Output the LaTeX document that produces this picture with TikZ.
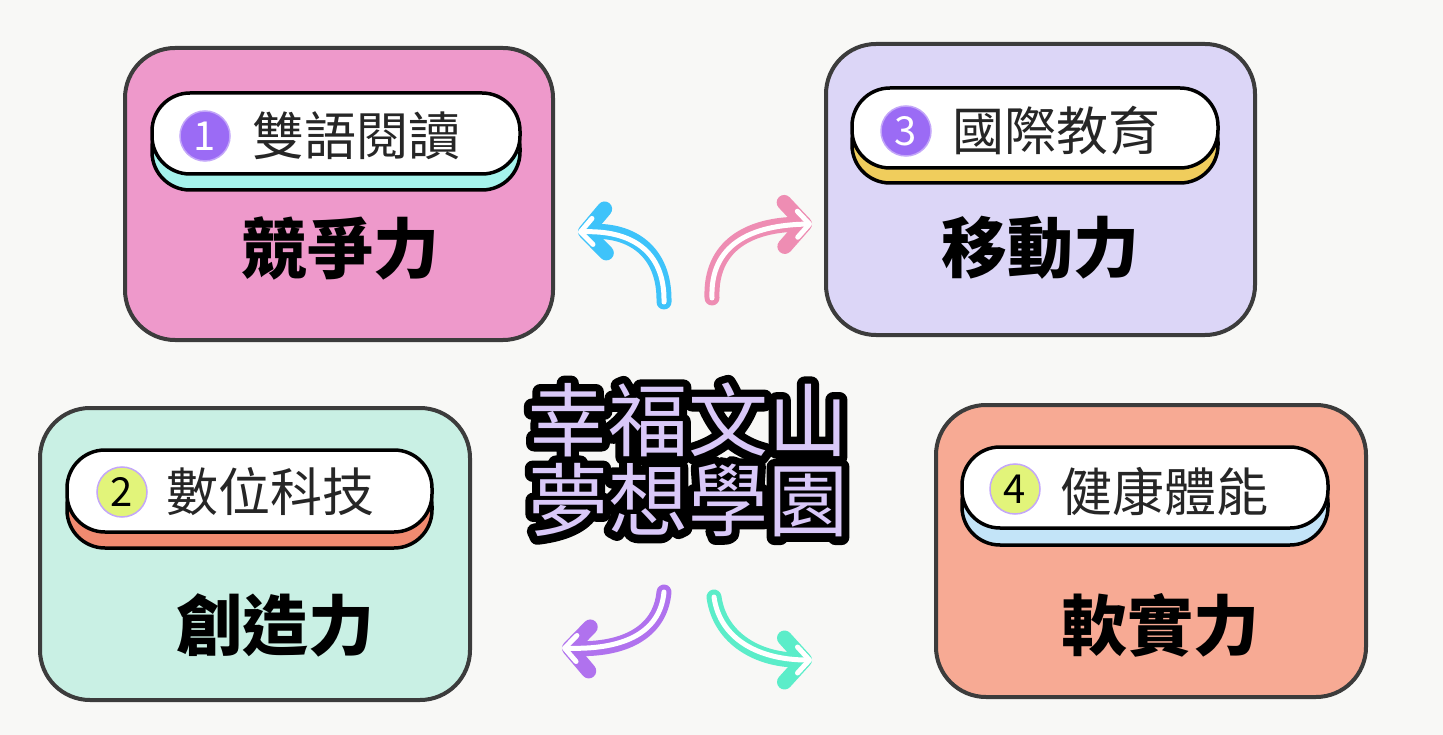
\documentclass[tikz,border=0pt]{standalone}
\usepackage{fontspec}
\usetikzlibrary{arrows.meta,calc}
\newfontfamily\cjk{Noto Sans CJK TC}
\definecolor{bg}{HTML}{F8F8F6}
\definecolor{edge}{HTML}{3C3C3C}
\definecolor{pinkf}{HTML}{EE99CB}
\definecolor{lavf}{HTML}{DCD6F7}
\definecolor{mintf}{HTML}{C9F0E4}
\definecolor{salf}{HTML}{F7AA94}
\definecolor{cyansh}{HTML}{A5F4EC}
\definecolor{yelsh}{HTML}{F0CD5C}
\definecolor{salsh}{HTML}{F08A70}
\definecolor{bluesh}{HTML}{C3E4F8}
\definecolor{purp}{HTML}{9B6BF5}
\definecolor{lime}{HTML}{E2F47A}
\definecolor{centre}{HTML}{D9C8F8}
\definecolor{arrblue}{HTML}{3EC3FA}
\definecolor{arrpink}{HTML}{EE8DB3}
\definecolor{arrpurp}{HTML}{B072EE}
\definecolor{arrgreen}{HTML}{5BEDC9}
\tikzset{
 card/.style={draw=edge,line width=4pt,rounded corners=50pt},
 pill/.style={draw=black,line width=3.5pt,rounded corners=38pt,fill=white},
 pillsh/.style={draw=black,line width=3.5pt,rounded corners=38pt},
 num/.style={circle,minimum size=50pt,inner sep=0pt,draw=purp!60,line width=1.5pt,font=\cjk\fontsize{40}{40}\selectfont},
 ptext/.style={font=\cjk\fontsize{52}{52}\selectfont,text=black!85,anchor=west,inner sep=0pt},
 title/.style={font=\cjk\bfseries\fontsize{66}{66}\selectfont},
 ctext/.style={font=\cjk\fontsize{80}{80}\selectfont,align=center},
 arrout/.style={line width=15pt,line cap=round,-{Straight Barb[length=20pt,width=44pt,round]}},
 arrin/.style={white,line width=5pt,line cap=round,-{Straight Barb[length=12pt,width=26pt,round]}},
}
\begin{document}
\begin{tikzpicture}[x=1pt,y=-1pt]
\fill[bg] (0,0) rectangle (1443,735);
\useasboundingbox (0,0) rectangle (1443,735);
% cards
\draw[card,fill=pinkf] (125,48) rectangle (553,340);
\draw[card,fill=lavf] (826,44) rectangle (1255,335);
\draw[card,fill=mintf] (40,408) rectangle (470,700);
\draw[card,fill=salf] (936,405) rectangle (1366,697);
% pills
\draw[pillsh,fill=cyansh] (152,110) rectangle (520,190);
\draw[pill] (152,93) rectangle (520,174);
\draw[pillsh,fill=yelsh] (852,104) rectangle (1218,183);
\draw[pill] (852,88) rectangle (1218,168);
\draw[pillsh,fill=salsh] (67,468) rectangle (432,548);
\draw[pill] (67,450) rectangle (432,532);
\draw[pillsh,fill=bluesh] (962,465) rectangle (1328,545);
\draw[pill] (962,447) rectangle (1328,528);
% numbers
\node[num,fill=purp,text=white] (n1) at (205,136) {1};
\node[num,fill=purp,text=white] (n3) at (906,131) {3};
\node[num,fill=lime,text=black] (n2) at (122,492) {2};
\node[num,fill=lime,text=black] (n4) at (1015,489) {4};
\node[ptext] (p1) at (252,136) {雙語閱讀};
\node[ptext] (p3) at (952,131) {國際教育};
\node[ptext] (p2) at (166,492) {數位科技};
\node[ptext] (p4) at (1060,492) {健康體能};
\node[title] (t1) at (340,248) {競爭力};
\node[title] (t3) at (1040,248) {移動力};
\node[title] (t2) at (275,625) {創造力};
\node[title] (t4) at (1160,625) {軟實力};
% centre text with outline
\node[ctext,text=black] (co) at (688,460) {\special{pdf:literal direct 2 Tr 16 w 1 j 0 G}幸福文山\\\special{pdf:literal direct 2 Tr 16 w 1 j 0 G}夢想學園\special{pdf:literal direct 0 Tr}};
\node[ctext,text=centre] (c) at (688,460) {\special{pdf:literal direct 0 Tr}幸福文山\\夢想學園};
% arrows
\coordinate (a1s) at (664,302); \coordinate (a1e) at (578,232);
\coordinate (a2s) at (712,298); \coordinate (a2e) at (812,224);
\coordinate (a3s) at (664,592); \coordinate (a3e) at (562,648);
\coordinate (a4s) at (714,597); \coordinate (a4e) at (812,660);
\draw[arrout,arrblue] (a1s) .. controls (665,250) and (630,230) .. (a1e);
\draw[arrin] (a1s) .. controls (665,250) and (630,230) .. (a1e);
\draw[arrout,arrpink] (a2s) .. controls (710,245) and (750,225) .. (a2e);
\draw[arrin] (a2s) .. controls (710,245) and (750,225) .. (a2e);
\draw[arrout,arrpurp] (a3s) .. controls (660,635) and (620,650) .. (a3e);
\draw[arrin] (a3s) .. controls (660,635) and (620,650) .. (a3e);
\draw[arrout,arrgreen] (a4s) .. controls (720,640) and (760,660) .. (a4e);
\draw[arrin] (a4s) .. controls (720,640) and (760,660) .. (a4e);
\end{tikzpicture}
\end{document}
